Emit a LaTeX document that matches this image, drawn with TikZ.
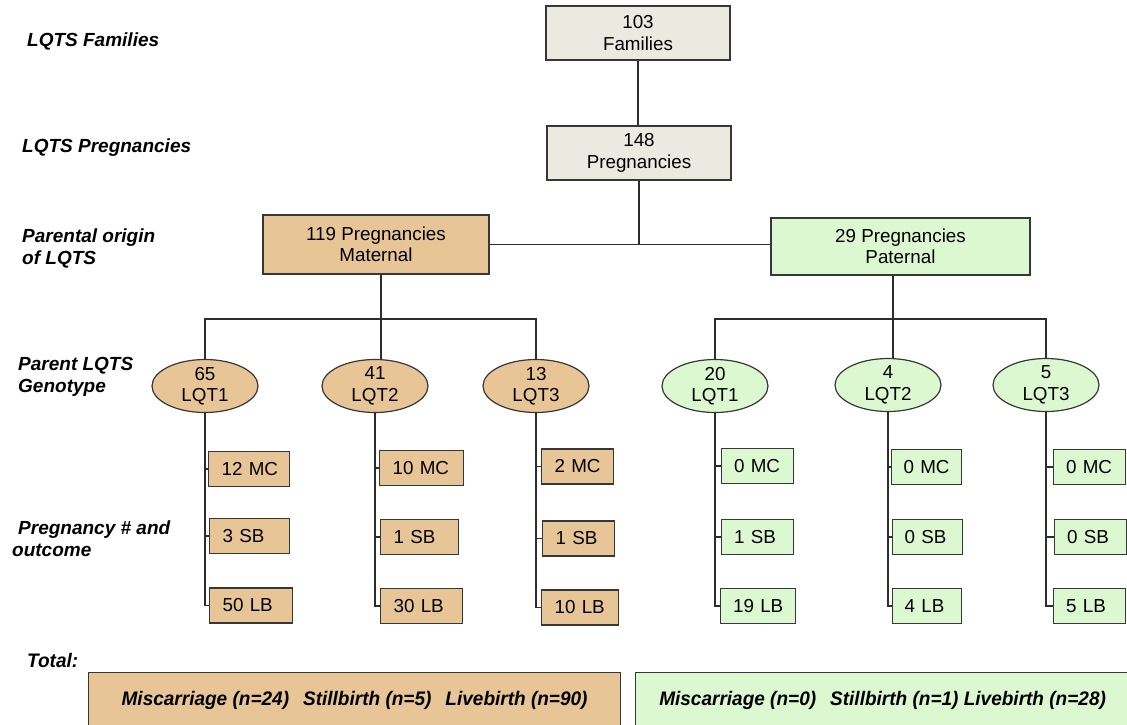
\documentclass[tikz,border=0pt]{standalone}
\usepackage{fontspec}
\setmainfont{Liberation Sans}
\newfontfamily\narrowfont[FakeStretch=0.97]{Liberation Sans}
\usetikzlibrary{shapes.geometric}
\definecolor{tanC}{RGB}{232,197,150}
\definecolor{greenC}{RGB}{220,248,208}
\definecolor{greyC}{RGB}{234,234,225}
\definecolor{edgeC}{RGB}{55,55,55}
\definecolor{lineC}{RGB}{45,45,45}
\begin{document}
\begin{tikzpicture}[x=1pt,y=-1pt,
  txt/.style={font=\fontsize{18.8}{21.5}\selectfont},
  bigbox/.style={draw=edgeC, line width=1.2pt, align=center, inner sep=0pt, txt},
  ell/.style={ellipse, draw=edgeC, line width=1.2pt, minimum width=106pt, minimum height=53pt, inner sep=0pt},
  elltext/.style={label={[txt, align=center, inner sep=0pt]center:#1}},
  sbox/.style={draw=edgeC, line width=1.2pt, anchor=west, inner xsep=13pt, inner ysep=0pt, minimum height=35pt, align=left, txt},
  side/.style={anchor=west, align=left, inner sep=0pt, font=\fontsize{19}{22}\selectfont\bfseries\itshape},
  totbox/.style={draw=edgeC, line width=1.2pt, anchor=north west, minimum height=56pt, inner sep=0pt, font=\fontsize{19.6}{22}\selectfont\narrowfont\bfseries\itshape},
  conn/.style={draw=lineC, line width=1.3pt}
]
\useasboundingbox (0,0) rectangle (1127,724);

% side labels
\node[side] (l1) at (27,41) {LQTS Families};
\node[side] (l2) at (22,148) {LQTS Pregnancies};
\node[side] (l3) at (22,248) {Parental origin\\of LQTS};
\node[side] (l4) at (18,377) {Parent LQTS\\Genotype};
\node[side] (l5) at (12,539) {\hspace*{6pt}Pregnancy \# and\\outcome};
\node[side, font=\fontsize{19.6}{22}\selectfont\narrowfont\bfseries\itshape] (l6) at (27,660) {Total:};

% top boxes
\node[bigbox, fill=greyC, minimum width=184pt, minimum height=54pt] (fam) at (638,33) {103\\Families};
\node[bigbox, fill=greyC, minimum width=184pt, minimum height=54pt] (preg) at (639,153) {148\\Pregnancies};
\node[bigbox, fill=tanC, minimum width=226pt, minimum height=59pt] (mat) at (376,244.5) {119 Pregnancies\\Maternal};
\node[bigbox, fill=greenC, minimum width=259pt, minimum height=57pt] (pat) at (900.5,246.5) {29 Pregnancies\\Paternal};

% ellipses
\node[ell, fill=tanC, elltext={65\\LQT1}] (m1) at (205,386) {};
\node[ell, fill=tanC, elltext={41\\LQT2}] (m2) at (375,386) {};
\node[ell, fill=tanC, elltext={13\\LQT3}] (m3) at (536,386) {};
\node[ell, fill=greenC, elltext={20\\LQT1}] (p1) at (715,386) {};
\node[ell, fill=greenC, elltext={4\\LQT2}] (p2) at (888,385) {};
\node[ell, fill=greenC, elltext={5\\LQT3}] (p3) at (1046,385) {};

% small boxes maternal
\node[sbox, fill=tanC, text width=55pt] (m1mc) at (208,469) {12~MC};
\node[sbox, fill=tanC, text width=54pt] (m1sb) at (209,536) {3~SB};
\node[sbox, fill=tanC, text width=57pt] (m1lb) at (209,605.5) {50~LB};
\node[sbox, fill=tanC, text width=58pt] (m2mc) at (379,468) {10~MC};
\node[sbox, fill=tanC, text width=52pt] (m2sb) at (380,537) {1~SB};
\node[sbox, fill=tanC, text width=56pt] (m2lb) at (380,606) {30~LB};
\node[sbox, fill=tanC, text width=46pt] (m3mc) at (541,466.5) {2~MC};
\node[sbox, fill=tanC, text width=46pt] (m3sb) at (542,538.5) {1~SB};
\node[sbox, fill=tanC, text width=51pt] (m3lb) at (541,607.5) {10~LB};
% small boxes paternal
\node[sbox, fill=greenC, text width=47pt, inner xsep=12.5pt] (p1mc) at (721,466) {0~MC};
\node[sbox, fill=greenC, text width=47pt, inner xsep=12.5pt] (p1sb) at (721,537) {1~SB};
\node[sbox, fill=greenC, text width=50pt, inner xsep=12.5pt] (p1lb) at (720,606) {19~LB};
\node[sbox, fill=greenC, text width=46pt, inner xsep=12pt] (p2mc) at (891,467) {0~MC};
\node[sbox, fill=greenC, text width=46pt, inner xsep=12pt] (p2sb) at (892,537) {0~SB};
\node[sbox, fill=greenC, text width=45pt, inner xsep=12pt] (p2lb) at (892,606) {4~LB};
\node[sbox, fill=greenC, text width=47pt, inner xsep=12.5pt] (p3mc) at (1053,467) {0~MC};
\node[sbox, fill=greenC, text width=47pt, inner xsep=12.5pt] (p3sb) at (1054,537) {0~SB};
\node[sbox, fill=greenC, text width=47pt, inner xsep=12.5pt] (p3lb) at (1053,606) {5~LB};

% totals
\node[totbox, fill=tanC, minimum width=532pt] (totm) at (88,672) {Miscarriage (n=24)\hspace{14pt}Stillbirth (n=5)\hspace{14pt}Livebirth (n=90)};
\node[totbox, fill=greenC, minimum width=494pt] (totp) at (635,672) {Miscarriage (n=0)\hspace{14pt}Stillbirth (n=1) Livebirth (n=28)};

% connectors top
\draw[conn] (fam.south) -- (fam.south |- preg.north);
\coordinate (mj) at (381,319);
\coordinate (pj) at (893,319);
\draw[conn] (preg.south) -- (preg.south |- mat.east);
\draw[conn] (mat.east) -- (mat.east -| pat.west);
\draw[conn] (mat.south -| mj) -- (mj |- m2.north);
\draw[conn] (m1.north) -- (m1.north |- mj) -- (m3.north |- mj) -- (m3.north);
\draw[conn] (pat.south -| pj) -- (pj |- p2.north);
\draw[conn] (p1.north) -- (p1.north |- pj) -- (p3.north |- pj) -- (p3.north);

% connectors to outcome boxes
\foreach \e in {m1,m2,m3,p1,p2,p3}{
  \draw[conn] (\e.south) -- (\e.south |- \e lb.west) -- (\e lb.west);
  \draw[conn] (\e.south |- \e mc.west) -- (\e mc.west);
  \draw[conn] (\e.south |- \e sb.west) -- (\e sb.west);
}
\end{tikzpicture}
\end{document}
